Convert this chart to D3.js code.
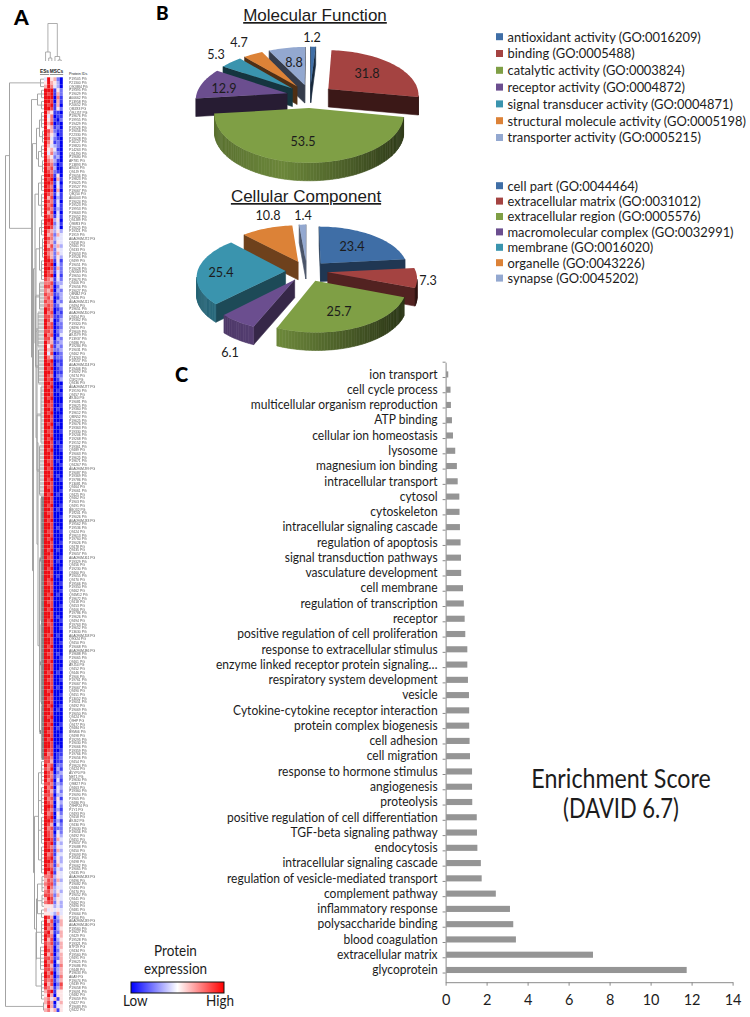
<!DOCTYPE html>
<html><head><meta charset="utf-8">
<script src="https://cdnjs.cloudflare.com/ajax/libs/d3/7.8.5/d3.min.js"></script>
<style>html,body{margin:0;padding:0;background:#fff}svg{display:block}text{font-family:Lato,sans-serif;fill:#1c1c1c}</style>
</head><body><svg id="c" width="750" height="1017"></svg>
<script>
// ---------- Panel C ----------
const goTerms=["ion transport","cell cycle process","multicellular organism reproduction","ATP binding","cellular ion homeostasis","lysosome","magnesium ion binding","intracellular transport","cytosol","cytoskeleton","intracellular signaling cascade","regulation of apoptosis","signal transduction pathways","vasculature development","cell membrane","regulation of transcription","receptor","positive regulation of cell proliferation","response to extracellular stimulus","enzyme linked receptor protein signaling…","respiratory system development","vesicle","Cytokine-cytokine receptor interaction","protein complex biogenesis","cell adhesion","cell migration","response to hormone stimulus","angiogenesis","proteolysis","positive regulation of cell differentiation","TGF-beta signaling pathway","endocytosis","intracellular signaling cascade ","regulation of vesicle-mediated transport","complement pathway","inflammatory response","polysaccharide binding","blood coagulation","extracellular matrix","glycoprotein"];
const goScores=[0.13,0.24,0.26,0.31,0.36,0.47,0.55,0.59,0.67,0.68,0.70,0.73,0.75,0.76,0.85,0.89,0.93,0.96,1.06,1.06,1.09,1.14,1.15,1.15,1.17,1.19,1.29,1.29,1.30,1.52,1.53,1.55,1.72,1.76,2.45,3.14,3.30,3.43,7.19,11.76];
const scoreTicks=[0,2,4,6,8,10,12,14];
// ---------- Panel B ----------
const mfNames=["antioxidant activity (GO:0016209)","binding (GO:0005488)","catalytic activity (GO:0003824)","receptor activity (GO:0004872)","signal transducer activity (GO:0004871)","structural molecule activity (GO:0005198)","transporter activity (GO:0005215)"];
const mfValues=[1.2,31.8,53.5,12.9,5.3,4.7,8.8];
const ccNames=["cell part (GO:0044464)","extracellular matrix (GO:0031012)","extracellular region (GO:0005576)","macromolecular complex (GO:0032991)","membrane (GO:0016020)","organelle (GO:0043226)","synapse (GO:0045202)"];
const ccValues=[23.4,7.3,25.7,6.1,25.4,10.8,1.4];
const sliceColors=["#3f6ea6","#a44341","#7f9f45","#6b4e8f","#3a94ae","#dc8237","#93a8d0"];
// ---------- Panel A ----------
const heatColumns=["ES1","ES2","ES3","MSC1","MSC2","MSC3"];
const heatRows=("495620 596530 697430 999152 989162 999071 998061 989160 998152 965110 947011 957102 968010 956120 986211 975301 984210 975120 964320 956410 947320 965230 976310 987201 978300 987210 998150 989061 998140 987051 998060 "+
"987141 968031 987140 978041 987131 968040 987141 999350 989241 998340 976353 967264 987344 976254 968363 987254 976264 986253 "+
"998151 989042 998162 987142 989051 876142 778133 887024 768032 877123 786013 877032 787124 "+
"987012 978021 887112 986013 978022 988012 887023 978014 886032 976123 958132 967223 948012 976122 "+
"989011 998021 989012 998011 987022 989013 "+
"998000 989001 998010 998001 989000 998000 988001 998010 989000 998001 998000 989010 998000 988001 998000 989000 998010 998001 989001 998000 998000 988010 998001 989000 998000 998010 989001 998000 988000 998001 989010 998000 998000 989001 998010 988000 998001 989000 998000 998010 988001 998000 "+
"989000 998001 998000 989010 998000 988001 998010 998000 989001 998000 998010 989000 988001 998000 998001 989010 998000 988000 998001 989000 998000 998010 989001 988000 998001 998000 989010 998000 998001 989000 "+
"998000 988010 998001 989000 998000 998001 989010 998000 988001 998000 998010 989000 998001 988000 998000 989001 998010 998000 989000 "+
"998000 989001 998010 988000 998001 989000 998000 998010 988001 "+
"978011 887012 886011 978022 879031 987023 "+
"987132 978041 887132 978043 986142 887033 978151 987043 "+
"998042 987131 978052 989043 998131 986042 978122 987042 "+
"987153 998164 989143 987254 998163 978144 989253 998153 987164 998243 979154 "+
"778354 687263 788254 697344 786353 887264 698354 788253 "+
"555343 645454 554364 "+
"986035 968126 987036 978035 896126 987046 968035 878126 977036 "+
"987025 968036 887126 978046 986027 887136 979036 987027 878136 968028 876137 "+
"689155 596055 674615 686046 596145 675615").split(" ");
const proteinIds=("P19505 P21300 Q9Q884 P19395 P19029 A00662 P13958 P20652 Q8IZ83 Q9UJ57 "+
"P19676 P19955 P19429 P19526 P19056 P22330 P19028 P16127 P19820 P14263 "+
"Q9JJ90 P19680 AF781 P13893 A9050 Q9JJ9 P19056 P19823 P19025 P19527 "+
"P19067 Q8Q50 A00003 P19024 P19523 P19953 P19663 P19052 Q9JJ89 Q9BR3 "+
"P19025 P19321 P1919 A0A096MJ72 Q9J58 Q9J61 Q9J33 P19053 P19526 Q9J99 "+
"P19051 P19028 Q90569 P19650 P19673 Q9J06 P19056 P19027 Q8NBZ Q9J26 "+
"A0A096MJ11 Q9J94 P19651 A0A096MJ50 Q9J54 P19362 P19320 Q8J96 P19609 A9J5Y9 "+
"P13937 Q9J86 P19284 P19031 Q9J62 P13263 P19557 A0A096MJ24 P19406 P19092 "+
"Q9J74 C5R2 Q9J36 A0A096MJ77 P19190 Q9J57 A9J60 P19081 P19625 P19360 "+
"P19612 Q8IN52 P19625 P19076 P19363 P19330 P19206 P19268 P19152 P19361 "+
"Q9J89 P19063 P19625 P19671 Q9J267 A0A096MJ99 P19087 P19369 P19786 P13081 "+
"Q9J64 P19061 Q9J25 Q9J62 P1903 Q9J91 B8Q32 P19201 P19026 A0A096MJ33 "+
"P19562 P19536 Q9J24 P19613 P19760 P19026 Q9J78 Q9J35 P19057 A0A096MJ61 "+
"P19329 Q9J56 P19230 Q9J60 P19055 Q9J70 P19566 P19350 Q9J62 Q9JM12 "+
"P19672 Q9J18 Q9J53 Q9J06 P19786 P19626 Q9J94 P19763 P19652 P13630 "+
"A0A096MJ58 Q9G24 Q9J50 P19068 A0A096MJ86 P19688 P19065 Q9J61 A9J54 Q9J52 "+
"Q9J46 P1906 P19761 P19067 P19067 Q9J90 Q9J51 P13052 P19051 Q9J92 "+
"P19069 P19050 Q9J24 Q9HP Q9J77 Q9J84 B9M06 Q9J98 P19295 P19030 "+
"P19066 P19359 P19766 P19056 Q9J54 P19624 Q9J24 A5YP0 NET1 P19630 "+
"Q9M27 Q9J63 P19360 P19090 P1905 Q9J86 Q9HP24 P1Y1 Q9J93 Q9J58 "+
"A9J62 Q9J30 P19030 P19056 Q9J92 Q9J51 P19057 P19088 Q9J50 P19093 "+
"P19561 Q9J98 P19062 P19065 Q9J35 A0A096MJ83 Q9J96 P19082 Q9J84 Q9J70 "+
"P19052 Q9J41 Q9J62 Q9J90 Q9J81 P19064 P1950 A0A096MJ39 A0A096MJ40 P19560 "+
"P19027 Q9J29 P19528 P19321 B7P29 Q9J34 P19560 Q9J91 P19625 P19086 "+
"Q9J48 P19633 A0A9 P19074 Q9J39 P19058 P19091 Q9J82 P19059 Q9J27 "+
"P19083 Q9J22").split(" ");

const svg=d3.select("#c");
const SX=.9; // Lato set a little condensed
const T=(x,y,s,size,anchor,extra,sx)=>{const t=svg.append("text").attr("transform",`translate(${x},${y}) scale(${sx||SX},1)`).text(s).attr("font-size",size).attr("text-anchor",anchor||"start");if(extra)extra(t);return t;};

// ===== Panel letters =====
[["A",14,25,21],["B",156,20,19],["C",175,382,20]].forEach(d=>T(d[1],d[2],d[0],d[3],"start",t=>t.attr("font-weight",900).style("fill","#000"),1));

// ===== Panel C: bars =====
const xS=d3.scaleLinear().domain([0,14]).range([445.6,732.6]);
const yS=d3.scaleBand().domain(goTerms).range([362.2,982.2]).padding(0.6);
const axisCol="#8a8a8a";
const gY=svg.append("g").attr("transform","translate(445.6,0)").call(d3.axisLeft(yS).tickSize(0).tickPadding(8).tickFormat(d=>d.trim()));
gY.selectAll(".domain").attr("stroke",axisCol).attr("stroke-width",1);
gY.selectAll("text").attr("font-size",13.2).style("font-family","Lato").attr("x",-8/.913).attr("transform","scale(.913,1)");
d3.range(goTerms.length+1).forEach(i=>{
  const yy=yS.range()[0]+i*yS.step();
  svg.append("line").attr("x1",442.6).attr("x2",445.6).attr("y1",yy).attr("y2",yy).attr("stroke",axisCol);
});
svg.append("g").selectAll("rect").data(goTerms).join("rect")
  .attr("x",xS(0)+.5).attr("y",d=>yS(d)).attr("height",yS.bandwidth())
  .attr("width",(d,i)=>xS(goScores[i])-xS(0)-.5).attr("fill","#959595");
const gX=svg.append("g").attr("transform","translate(0,982.2)").call(d3.axisBottom(xS).tickValues(scoreTicks).tickSize(3.5).tickSizeOuter(0).tickPadding(9));
gX.selectAll(".domain,line").attr("stroke",axisCol);
gX.selectAll("text").attr("font-size",14.5).style("font-family","Lato").attr("transform",function(){return "translate(0,0)";});
gX.selectAll("text").attr("textLength",null);
T(621,788,"Enrichment Score",26.5,"middle",null,.877);
T(621,818,"(DAVID 6.7)",26.5,"middle",null,.83);

// ===== Panel B: 3-D exploded pies =====
function pie3d(values,o){
  const arcs=d3.pie().sort(null).value(d=>d)(values);
  const wallShade=d3.scaleLinear().domain([0,.35,1]).range([.72,.85,.38]);
  const g=svg.append("g");
  const proj=(u,v)=>{const s=1/(1+o.p*v);return [o.cx+o.rx*u*s,o.cy-o.ry*v*s];};
  arcs.map((a,i)=>({a,i,mid:(a.startAngle+a.endAngle)/2}))
   .sort((p,q)=>Math.cos(q.mid)-Math.cos(p.mid))
   .forEach(({a,i,mid})=>{
     const eu=o.e*Math.sin(mid),ev=o.e*Math.cos(mid),pts=[proj(eu,ev)];
     const n=Math.max(2,Math.ceil((a.endAngle-a.startAngle)/.03));
     d3.range(n+1).forEach(k=>{const th=a.startAngle+(a.endAngle-a.startAngle)*k/n;pts.push(proj(eu+Math.sin(th),ev+Math.cos(th)));});
     const col=d3.rgb(sliceColors[i]);
     const scaled=f=>d3.rgb(col.r*f,col.g*f,col.b*f).formatHex();
     const walls=[];
     pts.forEach((p,k)=>{
       const q=pts[(k+1)%pts.length];
       if(q[0]-p[0]>=0)return;
       const cut=(k===0||k===pts.length-1);
       const t=((p[0]+q[0])/2-(o.cx-o.rx))/(2*o.rx);
       walls.push({p,q,f:cut?o.cut:wallShade(t),cut});
     });
     walls.sort((x,y)=>(x.cut?0:1)-(y.cut?0:1));
     g.append("g").selectAll("path").data(walls).join("path")
       .attr("d",w=>`M${w.p}L${w.q}L${w.q[0]},${w.q[1]+o.depth}L${w.p[0]},${w.p[1]+o.depth}Z`)
       .attr("fill",w=>scaled(w.f)).attr("stroke",w=>scaled(w.f)).attr("stroke-width",.6);
     g.append("path").attr("d",d3.line()(pts)+"Z").attr("fill",sliceColors[i]);
   });
  values.forEach((v,i)=>T(o.labels[i][0],o.labels[i][1],String(v),14,"middle").attr("dy",".35em"));
}
pie3d(mfValues,{cx:310,cy:96,rx:91,ry:45,p:.12,e:.26,depth:18,cut:.36,
  labels:[[312,37],[367,73],[303,141],[224,88],[216,54],[239,42],[294,62]]});
pie3d(ccValues,{cx:306.7,cy:271,rx:88,ry:43,p:.12,e:.24,depth:18,cut:.5,
  labels:[[352,246],[428,280],[339,311],[230,352],[221,272],[268,215],[303,215]]});
T(315,21,"Molecular Function",17,"middle",t=>t.style("font-family","Liberation Sans").style("text-decoration","underline"),1);
T(306,202,"Cellular Component",17,"middle",t=>t.style("font-family","Liberation Sans").style("text-decoration","underline"),1);
function legend(names,y0,dy){
  names.forEach((s,i)=>{
    svg.append("rect").attr("x",496).attr("y",y0+i*dy-3.5).attr("width",7).attr("height",7).attr("fill",sliceColors[i]);
    T(507.5,y0+i*dy,s,14.2,"start",null,.91).attr("dy",".35em");
  });
}
legend(mfNames,36.7,16.8);
legend(ccNames,185.7,15.4);

// ===== Panel A: heat map =====
const blur=svg.append("defs").append("filter").attr("id","soft").attr("x","-5%").attr("y","-1%").attr("width","110%").attr("height","102%");
blur.append("feGaussianBlur").attr("stdDeviation",.3);
const rowIdx=d3.range(heatRows.length);
const heatY=d3.scaleBand().domain(rowIdx).range([77.3,1012]);
const heatX=d3.scaleBand().domain(heatColumns).range([44,62.8]);
const heatColor=d3.scaleLinear().domain([0,4.5,9]).range(["#0606f0","#ffffff","#ee0f14"]);
const cells=svg.append("g").attr("filter","url(#soft)");
heatRows.forEach((r,i)=>{
  heatColumns.forEach((c,j)=>{
    cells.append("rect").attr("x",heatX(c)).attr("y",heatY(i)).attr("width",heatX.bandwidth()).attr("height",heatY.bandwidth())
      .attr("fill",heatColor(+r[j]));
  });
});
svg.append("g").attr("filter","url(#soft)").selectAll("text").data(proteinIds).join("text")
  .attr("x",69).attr("y",(d,i)=>heatY(i)+heatY.bandwidth()/2).attr("dy",".35em")
  .attr("font-size",3.4).style("font-family","Liberation Sans").style("fill","#555").text(d=>d+" PG");
T(69,74.5,"Protein IDs",3.7,"start",t=>t.style("font-family","Liberation Sans"),1);
T(44.5,73,"ESs",4.8,"middle",t=>t.attr("font-weight",700).style("font-family","Liberation Sans").style("text-decoration","underline"),1);
T(56.5,73,"MSCs",4.8,"middle",t=>t.attr("font-weight",700).style("font-family","Liberation Sans").style("text-decoration","underline"),1);

// Row dendrogram: nested clusters, [height, children...], comb = rows a..b
const n=(h,...children)=>({h,children});
const c=(h,a,b,st)=>({h,st,children:d3.range(a,Math.min(b,heatRows.length-1)+1).map(row=>({row,st}))});
const L="light",D="dark";
const rowTree=n(5,
 n(9,
  c(40,0,2),
  n(31,
   n(37,c(41,3,5),c(41,6,8)),
   n(32,
    n(36,n(39,c(41,9,13),c(42,14,17)),n(38,c(41,18,21),c(42,22,25))),
    n(33,
     n(34.5,
      n(38,c(41,26,30),c(41,31,37)),
      n(35.5,
       n(39,c(41,38,42),c(42,43,48),c(41,49,54)),
       n(36.5,
        n(35,c(39,55,62,L),c(37.5,63,72,L),c(38,73,82,L)),
        n(37.5,
         n(36.5,c(40.5,83,98,L),c(39,99,112,L)),
         n(39,c(40.5,113,146,D),c(40.5,147,168,D),c(41,169,183,D))
        )
       )
      )
     ),
     n(34,
      n(38,c(41,184,190),c(41,191,198),c(41,199,206),c(41,207,214)),
      n(36,
       n(37,c(41.5,215,219),c(41.5,220,223),c(41,224,226)),
       n(35.5,c(41,227,233),c(40,234,240),c(41,241,248))
      )
     )
    )
   )
  )
 ),
 c(43,249,251)
);
const treeX=d3.scaleLinear().domain([0,44]).range([0,44]);
const rowMid=i=>heatY(i)+heatY.bandwidth()/2;
const styleOf={undefined:{col:"#a3a3a3",w:.9},light:{col:"#c6c6c6",w:3},dark:{col:"#858585",w:3.8}};
const gTree=svg.append("g").attr("fill","none").lower();
function place(node){
  if(node.children){
    node.children.forEach(place);
    node.y=(node.children[0].y+node.children[node.children.length-1].y)/2;
    node.x=treeX(node.h)+.5;
  } else {node.y=rowMid(node.row);node.x=treeX(44);}
}
place(rowTree);
d3.hierarchy(rowTree).descendants().filter(d=>d.parent).forEach(d=>{
  const s=styleOf[d.data.st];
  gTree.append("path").attr("d",`M${d.data.x},${d.data.y}H${d.parent.data.x}`).attr("stroke",s.col).attr("stroke-width",s.w);
});
d3.hierarchy(rowTree).descendants().filter(d=>d.children).forEach(d=>{
  const ch=d.data.children;
  gTree.append("path").attr("d",`M${d.data.x},${ch[0].y}V${ch[ch.length-1].y}`).attr("stroke","#a3a3a3").attr("stroke-width",1);
});
// Column dendrogram
const colTree={h:23.5,children:[{h:52,children:[{col:0},{h:58,children:[{col:1},{col:2}]}]},{h:56.5,children:[{col:3},{h:60,children:[{col:4},{col:5}]}]}]};
const colY=d3.scaleLinear().domain([0,61]).range([0,61]);
(function placeC(node){
  if(node.children){node.children.forEach(placeC);node.x=d3.mean(node.children,k=>k.x);node.y=colY(node.h);}
  else {node.x=heatX(heatColumns[node.col])+heatX.bandwidth()/2;node.y=colY(61);}
})(colTree);
d3.hierarchy(colTree).descendants().filter(d=>d.children).forEach(d=>{
  const [a,b]=d.data.children;
  gTree.append("path").attr("d",`M${a.x},${a.y}V${d.data.y}H${b.x}V${b.y}`).attr("stroke","#9a9a9a").attr("stroke-width",.8);
});

// Colour key
const defs=svg.append("defs");
const grad=defs.append("linearGradient").attr("id","key");
[["0%","#0000ff"],["50%","#ffffff"],["100%","#ff0000"]].forEach(s=>grad.append("stop").attr("offset",s[0]).attr("stop-color",s[1]));
svg.append("rect").attr("x",131).attr("y",982).attr("width",93).attr("height",11).attr("fill","url(#key)").attr("stroke","#111").attr("stroke-width",1);
T(175.5,956,"Protein",15,"middle");
T(175.5,974,"expression",15,"middle");
T(123,1006,"Low",15);
T(234,1006,"High",15,"end");
</script></body></html>
